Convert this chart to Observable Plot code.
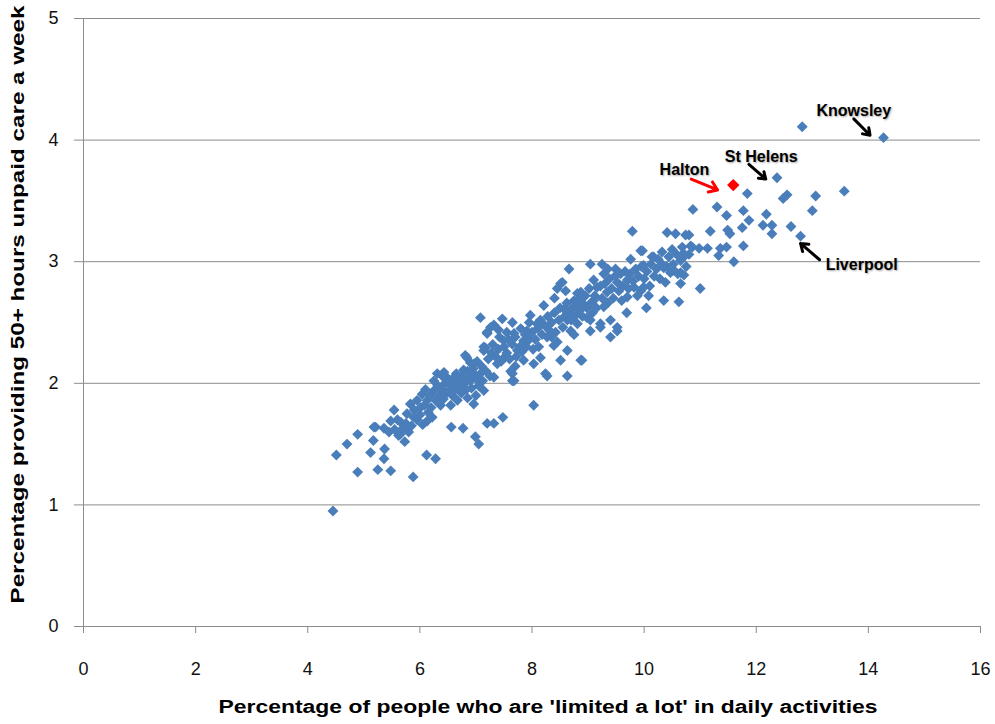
<!DOCTYPE html>
<html>
<head>
<meta charset="utf-8">
<script src="https://cdn.jsdelivr.net/npm/d3@7"></script>
<script src="https://cdn.jsdelivr.net/npm/@observablehq/plot@0.6"></script>
<style>
  html, body { margin: 0; padding: 0; background: #fff; }
  #chart { width: 995px; height: 724px; }
  .note { text-shadow: 1px 1px 2px rgba(0,0,0,0.35); }
</style>
</head>
<body>
<div id="chart"></div>
<script>
const xTicks = [0, 2, 4, 6, 8, 10, 12, 14, 16];
const yTicks = [0, 1, 2, 3, 4, 5];
const xTitle = "Percentage of people who are 'limited a lot' in daily activities";
const yTitle = "Percentage providing 50+ hours unpaid care a week";

// [limited a lot %, 50+ hours unpaid care %] for each local authority
const points = [
  [4.45,0.95],[4.51,1.41],[4.70,1.50],[4.89,1.58],[4.89,1.27],[5.12,1.43],[5.17,1.53],[5.21,1.64],
  [5.25,1.29],[5.36,1.38],[5.37,1.46],[5.48,1.28],[5.73,1.52],[5.88,1.23],[6.12,1.41],[6.28,1.38],
  [6.56,1.64],[6.77,1.63],[6.99,1.56],[7.05,1.50],[7.32,1.67],[7.48,1.72],[8.03,1.82],[5.18,1.64],
  [5.36,1.63],[5.54,1.78],[5.83,1.83],[6.04,1.91],[6.31,2.08],[6.43,2.09],[6.84,2.21],[7.14,2.27],
  [6.96,1.83],[6.37,1.82],[6.13,1.69],[5.89,1.72],[5.66,1.68],[6.52,1.94],[6.72,1.97],[6.90,2.02],
  [7.08,2.08],[6.67,1.86],[6.25,1.94],[6.13,1.86],[6.01,1.80],[5.77,1.75],[7.14,1.94],[7.20,1.67],
  [6.78,2.11],[6.61,2.05],[6.25,2.02],[6.96,2.16],[6.81,2.23],[6.90,2.17],[7.17,2.29],[7.20,2.42],
  [7.50,2.35],[7.68,2.02],[8.03,2.16],[8.24,2.08],[5.48,1.69],
  [7.08,2.54],[7.32,2.48],[7.47,2.53],[7.65,2.50],[7.20,2.41],[7.97,2.56],[8.21,2.64],[8.45,2.78],
  [8.51,2.82],[8.57,2.61],[8.81,2.74],[8.92,2.65],[7.68,2.41],[7.85,2.35],[7.91,2.43],[8.09,2.49],
  [8.27,2.38],[8.39,2.31],[8.15,2.21],[8.27,2.06],[8.63,2.06],[8.51,2.19],[8.63,2.27],[8.87,2.19],
  [8.69,2.43],[8.81,2.49],[8.98,2.54],[7.50,2.21],[7.62,2.10],[7.38,2.16],[7.74,2.27],[7.85,2.19],
  [6.96,2.08],[7.32,2.05],
  [9.79,3.25],[10.41,3.24],[10.56,3.23],[10.74,3.22],[9.97,3.09],[9.76,3.02],[10.14,3.04],[9.04,2.98],
  [9.25,2.98],[8.66,2.94],[9.49,2.94],[9.28,2.90],[9.99,2.97],[10.32,2.98],[10.65,3.01],[10.80,3.06],
  [10.47,2.91],[10.65,2.82],[10.38,2.83],[10.35,2.68],[10.62,2.67],[10.04,2.62],[9.69,2.58],[8.54,2.83],
  [9.10,2.85],[9.16,2.79],[9.34,2.75],[9.52,2.83],[9.70,2.85],[9.82,2.79],[9.94,2.76],[10.08,2.72],
  [8.87,2.75],[8.75,2.68],[8.92,2.63],[9.10,2.68],[9.28,2.63],[9.40,2.52],[9.22,2.49],[9.52,2.46],
  [9.04,2.52],[8.63,2.52],[9.99,2.79],[9.70,2.71],
  [11.84,3.56],[10.87,3.43],[11.30,3.45],[11.47,3.38],[11.77,3.42],[11.87,3.34],[12.18,3.39],[12.12,3.30],
  [12.28,3.30],[12.28,3.23],[11.75,3.28],[11.49,3.26],[11.53,3.23],[11.18,3.25],[11.77,3.13],[11.60,3.00],
  [11.36,3.11],[11.33,3.05],[11.47,3.12],[11.13,3.11],[10.98,3.11],[10.80,3.22],[10.83,3.13],[10.53,2.93],
  [10.17,3.04],[10.35,2.95],[9.94,3.09],[11.00,2.78],[10.71,2.89],[10.71,3.04],
  [14.27,4.02],[12.82,4.11],[12.37,3.69],[12.48,3.52],[12.55,3.55],[13.06,3.54],[13.57,3.58],[13.00,3.42],
  [12.79,3.21],[12.62,3.29],
  [9.40,2.38],[9.52,2.43],[9.22,2.46],[9.04,2.43],[8.89,2.19],[7.65,2.02],[7.65,2.08],[7.14,2.30],
  [7.26,2.46],[10.70,3.07],[10.86,3.12],[10.65,2.91],
  [5.45,1.60],[5.55,1.62],[5.60,1.70],[5.65,1.58],[5.70,1.63],[5.75,1.67],[5.80,1.60],[5.85,1.65],
  [5.90,1.78],[5.95,1.70],[6.00,1.74],[6.05,1.66],[6.08,1.82],[6.15,1.76],[6.18,1.90],[6.20,1.80],
  [6.22,1.72],[5.95,1.86],[6.10,1.95],[5.62,1.57],
  [6.28,1.86],[6.32,1.98],[6.35,1.90],[6.40,1.95],[6.42,1.87],[6.45,2.00],[6.48,1.92],[6.50,2.04],
  [6.55,1.98],[6.58,1.90],[6.60,2.00],[6.63,1.95],[6.65,2.08],[6.70,2.02],[6.74,1.92],[6.75,2.06],
  [6.80,2.00],[6.83,1.95],[6.85,2.10],[6.88,2.04],[6.92,1.96],[6.95,2.12],[7.00,2.04],[7.02,2.18],
  [7.05,1.98],[7.10,2.14],[7.12,2.02],[7.18,2.10],[7.22,2.20],[7.25,2.06],[6.55,1.82],[6.85,1.88],
  [7.00,1.90],[6.40,2.06],
  [7.28,2.25],[7.30,2.32],[7.35,2.22],[7.40,2.28],[7.42,2.38],[7.45,2.18],[7.50,2.30],[7.55,2.25],
  [7.58,2.36],[7.60,2.20],[7.65,2.32],[7.70,2.38],[7.72,2.22],[7.78,2.30],[7.80,2.45],[7.82,2.26],
  [7.88,2.40],[7.90,2.30],[7.95,2.36],[8.00,2.42],[8.02,2.28],[8.06,2.36],[8.10,2.45],[8.12,2.30],
  [8.18,2.40],[7.40,2.44],[7.55,2.42],[7.95,2.50],[8.15,2.52],[7.70,2.14],
  [8.22,2.48],[8.28,2.55],[8.30,2.44],[8.35,2.50],[8.40,2.58],[8.42,2.42],[8.48,2.52],[8.50,2.62],
  [8.55,2.46],[8.58,2.55],[8.62,2.66],[8.65,2.58],[8.70,2.52],[8.72,2.62],[8.78,2.56],[8.80,2.66],
  [8.85,2.60],[8.88,2.70],[8.90,2.55],[8.95,2.72],[8.98,2.62],[9.02,2.78],[9.05,2.66],[9.08,2.58],
  [9.12,2.72],[9.15,2.62],[8.35,2.38],[8.45,2.34],[8.75,2.40],[8.40,2.70],[8.60,2.76],
  [9.22,2.80],[9.25,2.70],[9.30,2.82],[9.35,2.66],[9.38,2.86],[9.42,2.78],[9.45,2.70],[9.48,2.88],
  [9.55,2.76],[9.58,2.90],[9.60,2.68],[9.62,2.80],[9.66,2.92],[9.72,2.78],[9.75,2.90],[9.80,2.84],
  [9.85,2.94],[9.88,2.72],[9.90,2.88],[9.95,2.96],[10.00,2.86],[10.05,2.92],[10.10,2.80],[10.12,2.98],
  [10.18,2.88],[9.35,2.94],
  [10.22,2.94],[10.25,3.02],[10.28,2.86],[10.32,3.08],[10.40,2.96],[10.44,3.04],[10.50,3.10],[10.52,2.98],
  [10.58,3.06],[10.60,2.90],[10.68,3.12],[10.75,2.96]
];

const halton = [[11.59, 3.63]];

// annotation labels
const noteNames = ["Knowsley", "St Helens", "Halton", "Liverpool"];
const noteX = [13.74, 12.09, 10.72, 13.88];
const noteY = [4.24, 3.865, 3.758, 2.977];
// arrows: from (x1,y1) to (x2,y2)
const arrowX1 = [13.74, 11.87, 10.84, 13.13];
const arrowY1 = [4.175, 3.80, 3.68, 3.016];
const arrowX2 = [14.03, 12.17, 11.31, 12.79];
const arrowY2 = [4.04, 3.68, 3.59, 3.15];
const arrowColor = ["black", "black", "red", "black"];

const notes = noteNames.map((name, i) => ({name, x: noteX[i], y: noteY[i]}));
const arrows = noteNames.map((name, i) => ({x1: arrowX1[i], y1: arrowY1[i], x2: arrowX2[i], y2: arrowY2[i], c: arrowColor[i]}));

const FONT = "'Liberation Sans', Arial, sans-serif";
const GRID = "#8c8c8c";

const chart = Plot.plot({
  width: 995,
  height: 724,
  marginLeft: 83,
  marginRight: 15,
  marginTop: 18,
  marginBottom: 98,
  style: {fontFamily: FONT, fontSize: "18px", background: "#fff", color: "#000"},
  x: {domain: [0, 16]},
  y: {domain: [0, 5]},
  marks: [
    Plot.gridY(yTicks, {stroke: GRID, strokeOpacity: 1, strokeWidth: 1}),
    Plot.ruleX([0], {stroke: GRID, strokeWidth: 1}),
    Plot.axisX({ticks: xTicks, tickFormat: d3.format("d"), tickSize: 7, tickPadding: 29, stroke: GRID, fill: "#111", label: null, fontSize: 18}),
    Plot.axisY({ticks: yTicks, tickFormat: d3.format("d"), tickSize: 9, tickPadding: 16, stroke: GRID, fill: "#111", label: null, fontSize: 18}),
    Plot.dot(points, {x: d => d[0], y: d => d[1], symbol: "diamond2", r: 4.9, fill: "#4a7ebb"}),
    Plot.dot(halton, {x: d => d[0], y: d => d[1], symbol: "diamond2", r: 5.6, fill: "#ff0000"}),
    Plot.arrow(arrows, {x1: "x1", y1: "y1", x2: "x2", y2: "y2", stroke: "c", strokeWidth: 3, headLength: 10, headAngle: 70}),
    Plot.text(notes, {x: "x", y: "y", text: "name", fontWeight: "bold", fontSize: 16, fill: "#000", className: "note"}),
    Plot.text([xTitle], {frameAnchor: "bottom", textAnchor: "middle", dx: 16, dy: 86, text: d => d, fontWeight: "bold", fontSize: 18, fill: "#000"}),
    Plot.text([yTitle], {frameAnchor: "left", textAnchor: "middle", dx: -65, dy: -18, rotate: -90, text: d => d, fontWeight: "bold", fontSize: 18, fill: "#000"})
  ]
});

document.getElementById("chart").appendChild(chart);

// fit axis titles to the reference widths
d3.select(chart).selectAll("text").each(function() {
  const t = this.textContent;
  if (t === xTitle) { this.setAttribute("textLength", 659); this.setAttribute("lengthAdjust", "spacingAndGlyphs"); }
  if (t === yTitle) { this.setAttribute("textLength", 598); this.setAttribute("lengthAdjust", "spacingAndGlyphs"); }
});
</script>
</body>
</html>
